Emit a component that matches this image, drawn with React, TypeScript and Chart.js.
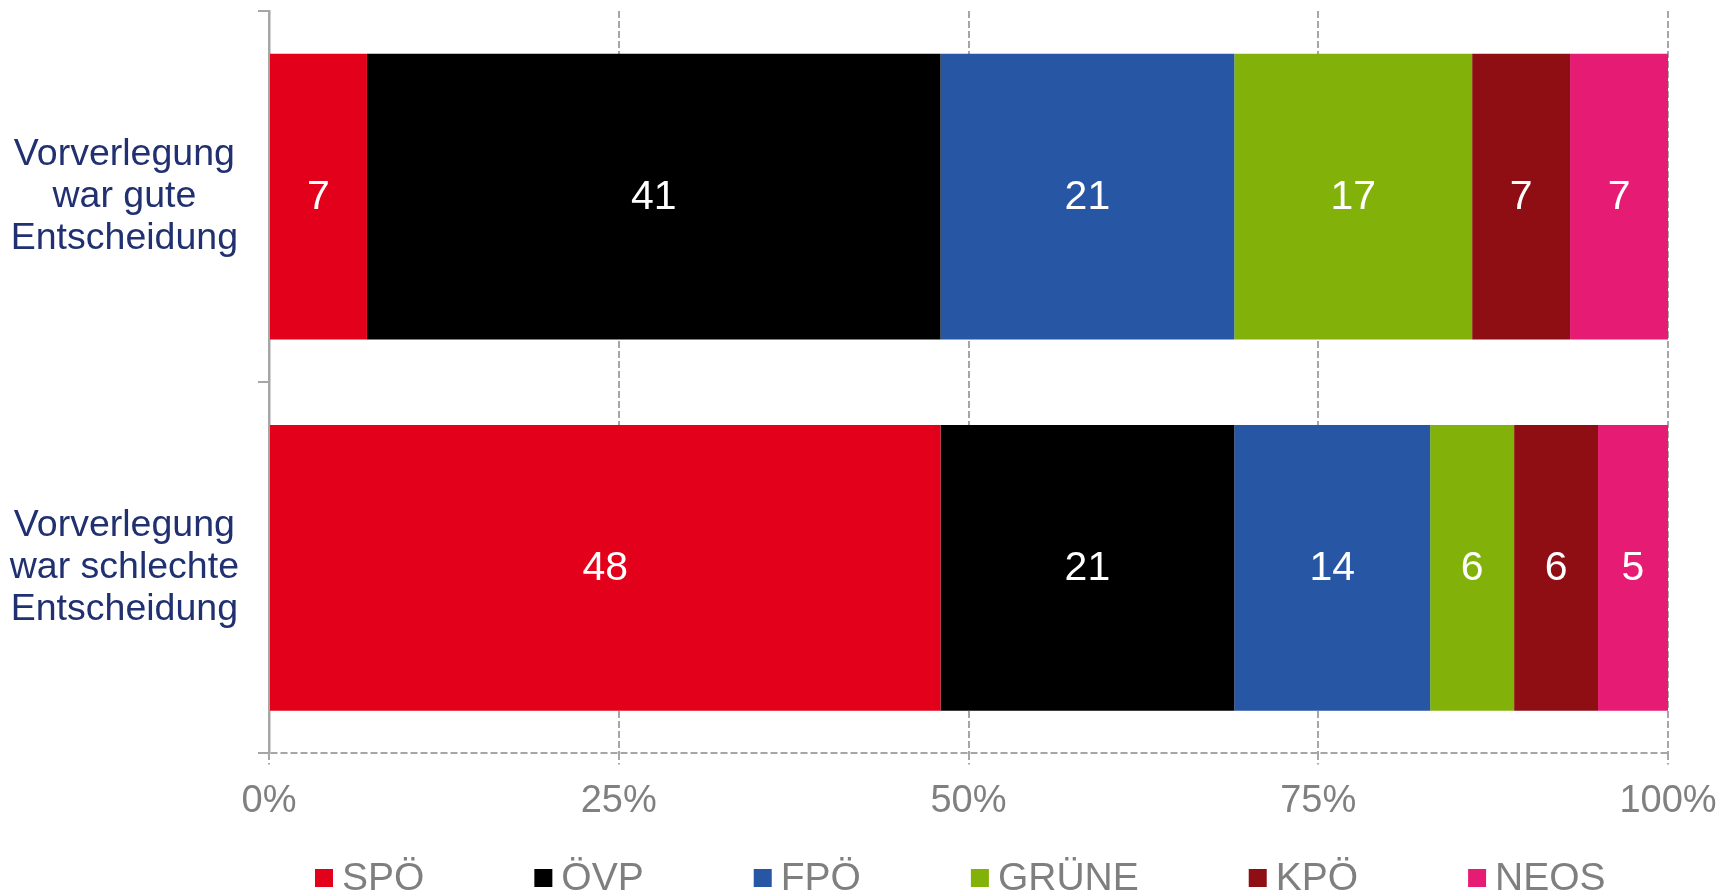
import React, { useEffect, useRef } from "react";
import { Chart, registerables } from "chart.js";

Chart.register(...registerables);

const categories: string[][] = [
  ["Vorverlegung", "war gute", "Entscheidung"],
  ["Vorverlegung", "war schlechte", "Entscheidung"],
];

const parties = ["SPÖ", "ÖVP", "FPÖ", "GRÜNE", "KPÖ", "NEOS"];
const partyColors = ["#E2001A", "#000000", "#2656A4", "#82B20A", "#8E0E14", "#E61C74"];

const spoValues = [7, 48];
const ovpValues = [41, 21];
const fpoValues = [21, 14];
const grueneValues = [17, 6];
const kpoValues = [7, 6];
const neosValues = [7, 5];

const xTicks = [0, 25, 50, 75, 100];

const FONT = '"Liberation Sans", Arial, Helvetica, sans-serif';
const AXIS_GRAY = "#A6A6A6";

const segmentLabels = {
  id: "segmentLabels",
  afterDatasetsDraw(chart: any) {
    const ctx = chart.ctx;
    ctx.save();
    ctx.font = `41px ${FONT}`;
    ctx.fillStyle = "#ffffff";
    ctx.textAlign = "center";
    ctx.textBaseline = "middle";
    chart.data.datasets.forEach((ds: any, di: number) => {
      const meta = chart.getDatasetMeta(di);
      meta.data.forEach((el: any, i: number) => {
        const p = el.getProps(["x", "y", "base"], true);
        ctx.fillText(String(ds.data[i]), (p.x + p.base) / 2, p.y + 1);
      });
    });
    ctx.restore();
  },
};

const customLegend = {
  id: "customLegend",
  afterDraw(chart: any) {
    const ctx = chart.ctx;
    ctx.save();
    ctx.font = `39px ${FONT}`;
    ctx.textBaseline = "middle";
    ctx.textAlign = "left";
    let x = chart.chartArea.left + 46;
    const y = chart.height - 17;
    chart.data.datasets.forEach((ds: any) => {
      ctx.fillStyle = ds.backgroundColor;
      ctx.fillRect(x, y - 9, 18, 18);
      x += 27;
      ctx.fillStyle = "#7F7F7F";
      ctx.fillText(ds.label, x, y + 1);
      x += ctx.measureText(ds.label).width + 110;
    });
    ctx.restore();
  },
};

export default function App() {
  const ref = useRef<HTMLCanvasElement>(null);

  useEffect(() => {
    if (!ref.current) return;
    const series = [spoValues, ovpValues, fpoValues, grueneValues, kpoValues, neosValues];
    const chart = new Chart(ref.current, {
      type: "bar",
      data: {
        labels: categories,
        datasets: parties.map((p, i) => ({
          label: p,
          data: series[i],
          backgroundColor: partyColors[i],
          borderWidth: 0,
          barPercentage: 0.77,
          categoryPercentage: 1,
        })),
      },
      options: {
        indexAxis: "y",
        animation: false,
        responsive: true,
        maintainAspectRatio: false,
        layout: { padding: { top: 11, left: 0, right: 66, bottom: 57 } },
        plugins: {
          legend: { display: false },
          tooltip: { enabled: false },
        },
        scales: {
          x: {
            stacked: true,
            min: 0,
            max: 100,
            afterBuildTicks: (scale: any) => {
              scale.ticks = xTicks.map((v) => ({ value: v }));
            },
            ticks: {
              callback: (v: any) => `${v}%`,
              color: "#808080",
              font: { family: FONT, size: 38 },
              padding: 14,
              maxRotation: 0,
            },
            grid: {
              color: AXIS_GRAY,
              lineWidth: 2,
              tickLength: 11,
              drawTicks: true,
              tickBorderDash: [7, 3],
            },
            border: { display: false, color: AXIS_GRAY, width: 2, dash: [7, 3] },
          },
          y: {
            stacked: true,
            afterFit: (scale: any) => {
              scale.width = 269;
              scale.paddingTop = 0;
              scale.paddingBottom = 0;
            },
            ticks: {
              color: "#203070",
              font: { family: FONT, size: 37.5, lineHeight: 1.12 },
              crossAlign: "center",
              padding: 19,
            },
            grid: {
              drawOnChartArea: true,
              drawTicks: true,
              tickLength: 11,
              color: (c: any) => (c.index === undefined ? AXIS_GRAY : "rgba(0,0,0,0)"),
              tickColor: AXIS_GRAY,
              lineWidth: 2,
            },
            border: { display: true, color: AXIS_GRAY, width: 2.5, dash: [7, 3] },
          },
        },
      },
      plugins: [segmentLabels, customLegend],
    } as any);
    return () => chart.destroy();
  }, []);

  return (
    <div style={{ position: "fixed", left: 0, top: 0, width: 1734, height: 895, background: "#fff" }}>
      <canvas ref={ref} />
    </div>
  );
}
